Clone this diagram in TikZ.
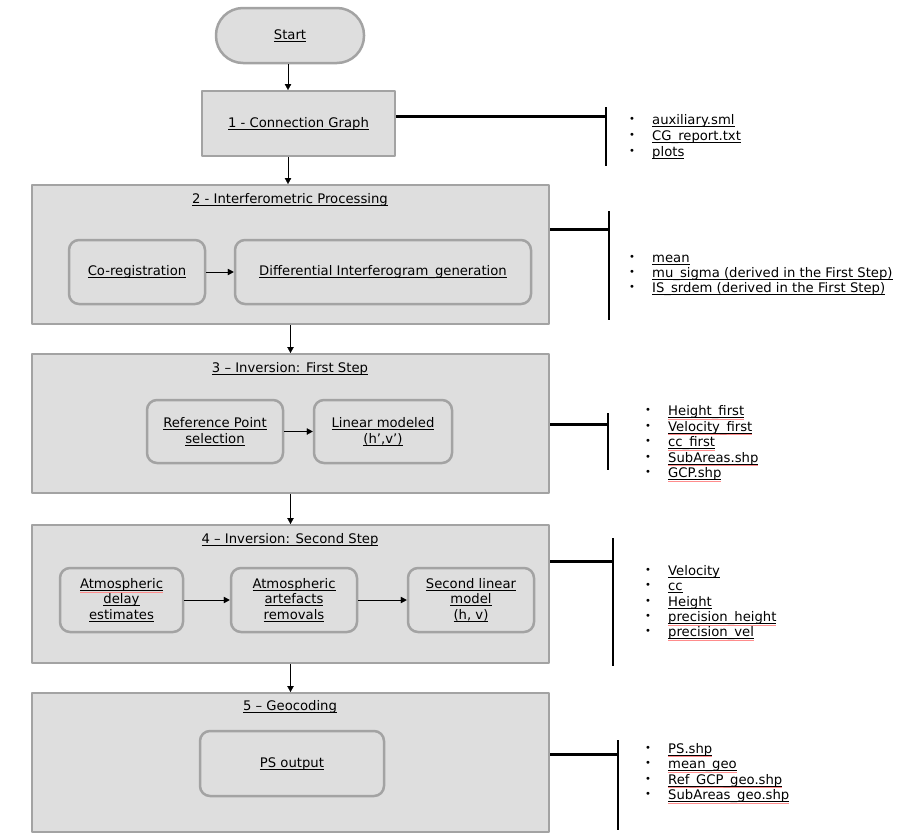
\documentclass[tikz,border=0pt]{standalone}
\usepackage{fontspec}
\setmainfont{DejaVu Sans}
\usetikzlibrary{arrows.meta}
\definecolor{boxfill}{HTML}{DEDEDE}
\definecolor{boxline}{HTML}{A3A3A3}
\newcommand{\undl}[1]{\setbox0\hbox{#1}\rlap{\rule[-2.4pt]{\wd0}{0.9pt}}\box0}
\newcommand{\undlsp}[1]{\setbox0\hbox{#1}\rlap{\color{red!45}\rule[-4pt]{\wd0}{0.6pt}}\undl{#1}}
\begin{document}
\begin{tikzpicture}[x=1pt,y=-1pt,>={Triangle[length=6pt,width=6.5pt]},line join=round,
	font=\fontsize{13.2}{15.5}\selectfont,
	stage/.style={draw=boxline,fill=boxfill,line width=2pt,inner sep=0pt},
	task/.style={draw=boxline,fill=boxfill,line width=2.5pt,rounded corners=10pt,align=center,inner sep=0pt},
	stagetitle/.style={anchor=base,inner sep=0pt},
	outlink/.style={line width=3pt},
	outbar/.style={line width=2.5pt},
	outitem/.style={anchor=base west,inner sep=0pt},
	outdot/.style={font=\fontsize{10}{10}\selectfont,inner sep=0pt}]
	\useasboundingbox (0,0) rectangle (904,833);
	% start and connection graph
	\node[task,rounded corners=27pt,minimum width=148pt,minimum height=55pt] (start) at (290,35.5) {\undl{Start}};
	\node[stage,minimum width=193pt,minimum height=65pt] (cg) at (298.5,123.5) {\undl{1 - Connection Graph}};
	% interferometric processing
	\node[stage,minimum width=517pt,minimum height=139pt] (ip) at (290.5,254.5) {};
	\node[stagetitle] (ipt) at (290,203.5) {\undl{2 - Interferometric Processing}};
	\node[task,minimum width=136pt,minimum height=64pt] (coreg) at (137,272) {\undl{Co-registration}};
	\node[task,minimum width=296pt,minimum height=64pt] (difint) at (383,272) {\undl{Differential Interferogram\_generation}};
	% inversion, first step
	\node[stage,minimum width=517pt,minimum height=139pt] (inv1) at (290.5,423.5) {};
	\node[stagetitle] (inv1t) at (290,372.5) {\undl{3 – Inversion: First Step}};
	\node[task,minimum width=136pt,minimum height=63pt] (refpt) at (215,431.5) {\undl{Reference Point}\\\undl{selection}};
	\node[task,minimum width=138pt,minimum height=63pt] (linmod) at (383,431.5) {\undl{Linear modeled}\\\undl{(h’,v’)}};
	% inversion, second step
	\node[stage,minimum width=517pt,minimum height=138pt] (inv2) at (290.5,594) {};
	\node[stagetitle] (inv2t) at (290,543.5) {\undl{4 – Inversion: Second Step}};
	\node[task,minimum width=123pt,minimum height=64pt] (atmdel) at (121.5,600) {\undlsp{Atmospheric}\\\undl{delay}\\\undl{estimates}};
	\node[task,minimum width=126pt,minimum height=64pt] (atmrem) at (294,600) {\undl{Atmospheric}\\\undl{artefacts}\\\undl{removals}};
	\node[task,minimum width=126pt,minimum height=64pt] (seclin) at (471,600) {\undl{Second linear}\\\undl{model}\\\undl{(h, v)}};
	% geocoding
	\node[stage,minimum width=517pt,minimum height=139pt] (geo) at (290.5,762.5) {};
	\node[stagetitle] (geot) at (290,710.5) {\undl{5 – Geocoding}};
	\node[task,minimum width=184pt,minimum height=65pt] (psout) at (292,763.5) {\undl{PS output}};
	% flow
	\draw[->] (start.south -| 288,0) -- (cg.north -| 288,0);
	\draw[->] (cg.south -| 288,0) -- (ip.north -| 288,0);
	\draw[->] (ip) -- (inv1);
	\draw[->] (inv1) -- (inv2);
	\draw[->] (inv2) -- (geo);
	\draw[->] (coreg) -- (difint);
	\draw[->] (refpt) -- (linmod);
	\draw[->] (atmdel) -- (atmrem);
	\draw[->] (atmrem) -- (seclin);
	% outputs
	\foreach \s/\y/\x/\t/\b in {cg/116/606/107/166,ip/229/609/211/320,inv1/424/608/413/470,inv2/561/613/538/666,geo/754/618/740/830}{
		\coordinate (\s-out) at (\x,\y);
		\draw[outlink] (\s.east |- \s-out) -- (\s-out);
		\draw[outbar] (\x,\t) -- (\x,\b);
	}
	\foreach \t [count=\i] in {\undl{auxiliary.sml},\undl{CG\_report.txt},\undl{plots}}{
		\node[outdot] (cgb\i) at (632,{104+16*\i}) {\textbullet};
		\node[outitem] (cgo\i) at (652,{108.5+16*\i}) {\t};
	}
	\foreach \t [count=\i] in {\undl{mean},\undl{mu\_sigma (derived in the First Step)},\undl{IS\_srdem (derived in the First Step)}}{
		\node[outdot] (ipb\i) at (632,{243+15*\i}) {\textbullet};
		\node[outitem] (ipo\i) at (652,{247.5+15*\i}) {\t};
	}
	\foreach \t [count=\i] in {\undlsp{Height\_first},\undlsp{Velocity\_first},\undlsp{cc\_first},\undlsp{SubAreas.shp},\undlsp{GCP.shp}}{
		\node[outdot] (inv1b\i) at (648,{395.5+15.5*\i}) {\textbullet};
		\node[outitem] (inv1o\i) at (668,{400+15.5*\i}) {\t};
	}
	\foreach \t [count=\i] in {\undl{Velocity},\undl{cc},\undl{Height},\undlsp{precision\_height},\undlsp{precision\_vel}}{
		\node[outdot] (inv2b\i) at (648,{555.75+15.25*\i}) {\textbullet};
		\node[outitem] (inv2o\i) at (668,{560.25+15.25*\i}) {\t};
	}
	\foreach \t [count=\i] in {\undlsp{PS.shp},\undlsp{mean\_geo},\undlsp{Ref\_GCP\_geo.shp},\undlsp{SubAreas\_geo.shp}}{
		\node[outdot] (geob\i) at (648,{733+15.5*\i}) {\textbullet};
		\node[outitem] (geoo\i) at (668,{737.5+15.5*\i}) {\t};
	}
\end{tikzpicture}
\end{document}
